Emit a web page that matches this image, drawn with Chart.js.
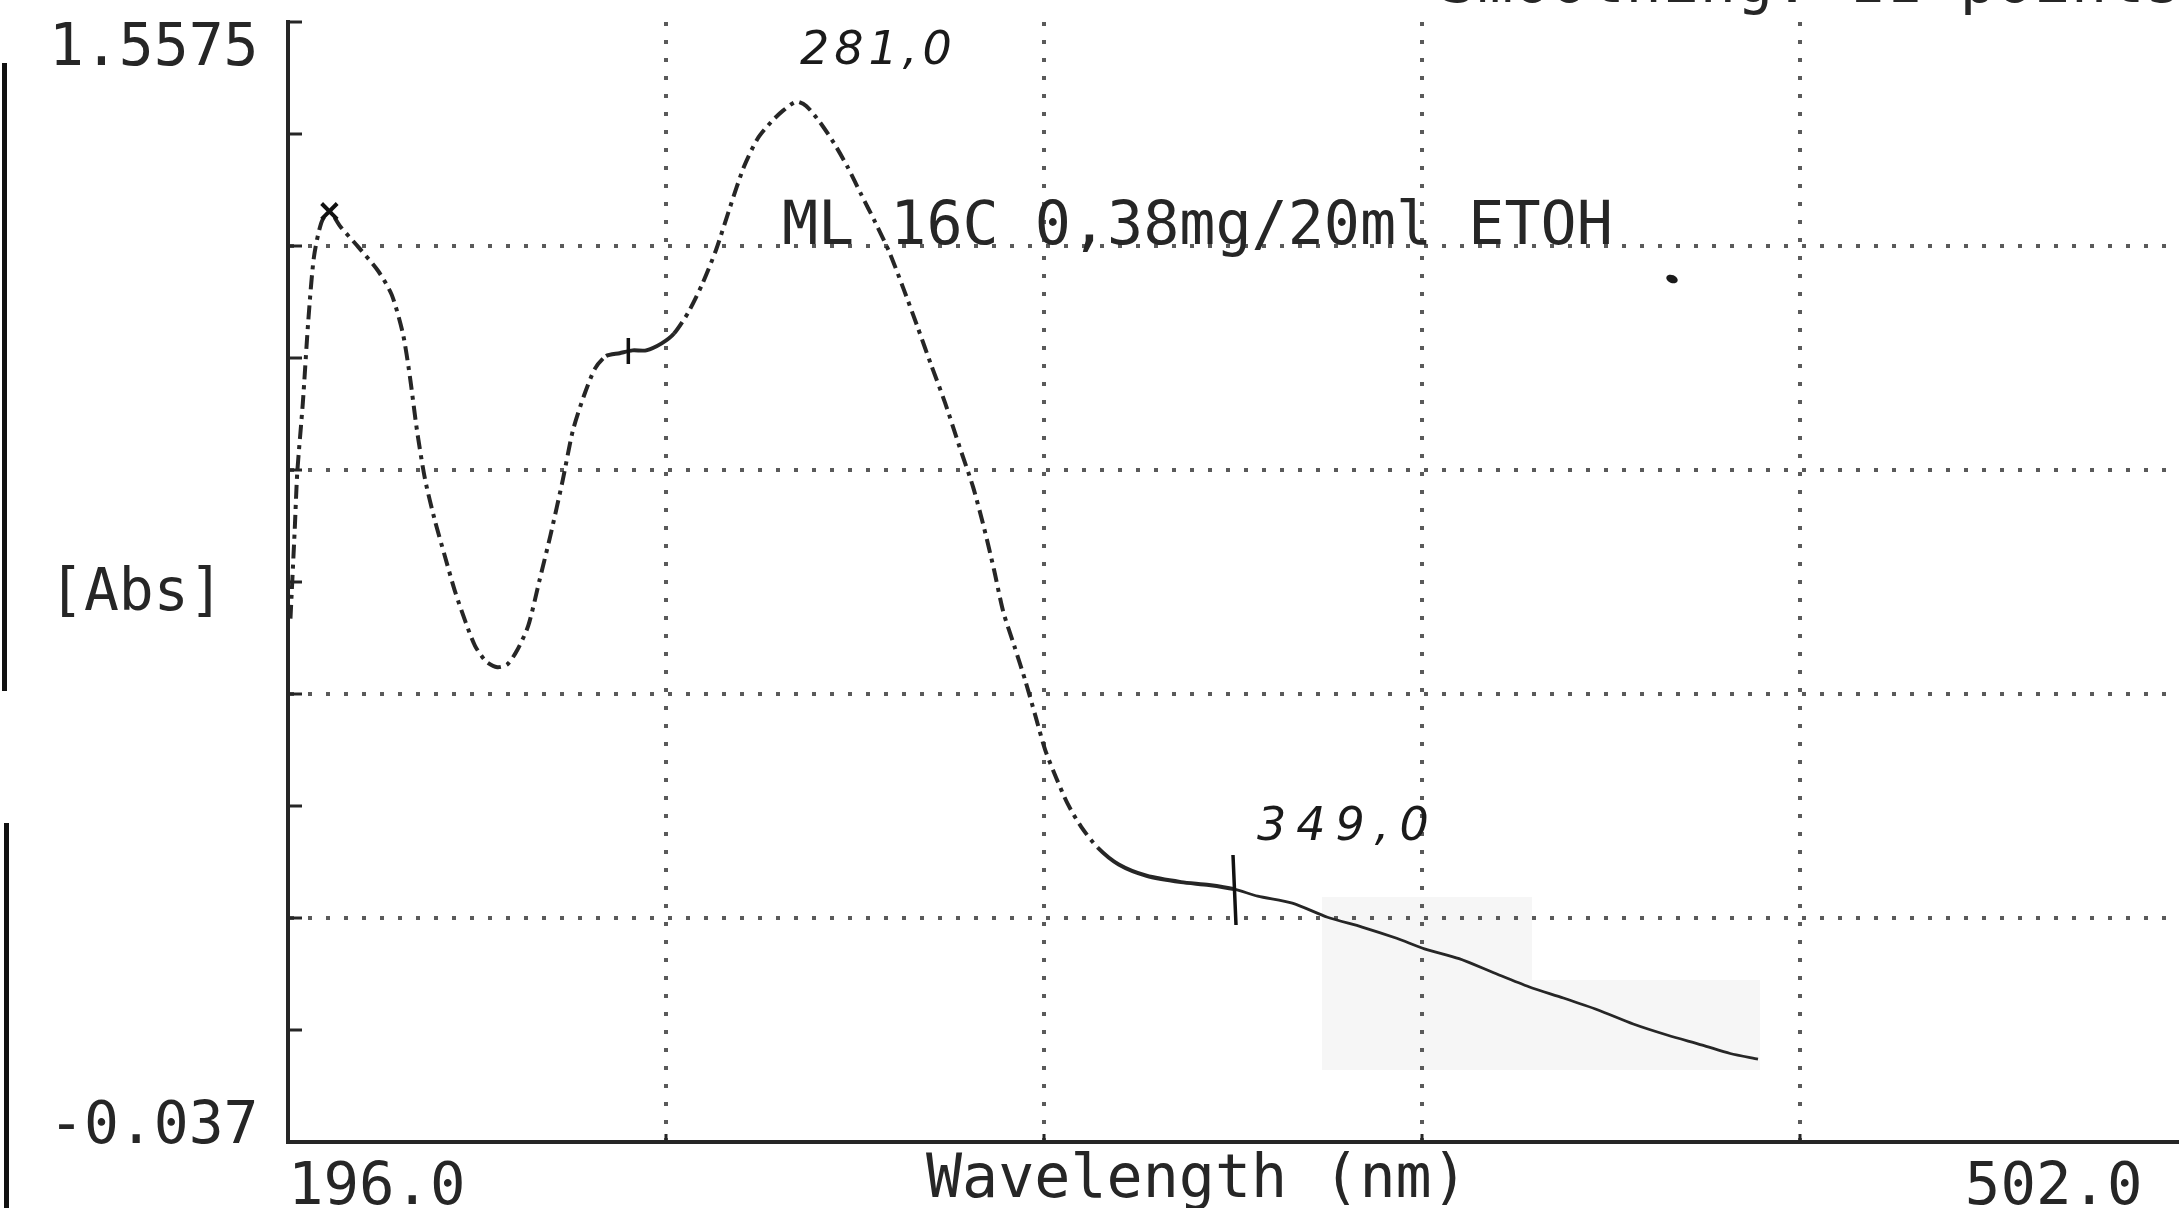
<!DOCTYPE html>
<html>
<head>
<meta charset="utf-8">
<script src="https://cdn.jsdelivr.net/npm/chart.js@4.4.1/dist/chart.umd.min.js"></script>
<style>
  html, body { margin: 0; padding: 0; background: #fff; overflow: hidden; }
</style>
</head>
<body>
<canvas id="spectrum" width="2179" height="1208"></canvas>
<script>
// spectrum (nm / Abs)
const wavelengths = [196.4, 197.1, 197.5, 198.4, 199.3, 200.2, 201.4, 202.7, 204.5, 207.4,
  210.6, 212.8, 214.6, 215.7, 216.9, 218.2, 219.8, 221.4, 223.0, 224.8,
  226.3, 228.1, 229.9, 231.5, 233.1, 234.9, 236.7, 238.5, 240.5, 242.1,
  243.9, 245.7, 247.5, 249.7, 251.8, 254.0, 256.5, 258.5, 260.8, 263.0,
  265.3, 267.5, 269.8, 272.0, 274.2, 276.1, 278.3, 279.9, 282.1, 284.4,
  286.6, 288.8, 291.1, 293.4, 295.6, 297.9, 300.1, 302.4, 304.6, 306.9,
  308.7, 310.3, 311.8, 313.6, 315.4, 317.0, 318.6, 320.4, 322.2, 324.4,
  327.1, 330.5, 335.0, 340.6, 345.1, 349.2, 353.0, 358.6, 364.3, 369.9,
  375.5, 380.0, 385.6, 391.2, 396.9, 402.5, 408.1, 413.8, 419.4, 425.0,
  429.5, 434.0];
const absorbance = [0.708, 0.837, 0.916, 1.015, 1.134, 1.223, 1.272, 1.288, 1.266, 1.237,
  1.203, 1.169, 1.114, 1.055, 0.975, 0.906, 0.847, 0.797, 0.748, 0.702,
  0.669, 0.647, 0.639, 0.643, 0.663, 0.698, 0.762, 0.827, 0.906, 0.975,
  1.025, 1.064, 1.082, 1.086, 1.090, 1.090, 1.100, 1.114, 1.144, 1.183,
  1.233, 1.292, 1.351, 1.391, 1.415, 1.431, 1.444, 1.438, 1.415, 1.385,
  1.351, 1.312, 1.272, 1.229, 1.179, 1.124, 1.070, 1.015, 0.956, 0.896,
  0.837, 0.778, 0.718, 0.669, 0.619, 0.570, 0.521, 0.481, 0.445, 0.412,
  0.382, 0.358, 0.342, 0.333, 0.329, 0.323, 0.313, 0.303, 0.283, 0.269,
  0.253, 0.238, 0.224, 0.204, 0.184, 0.168, 0.151, 0.131, 0.115, 0.101,
  0.089, 0.081];

const xTicks = [196, 257.2, 318.4, 379.6, 440.8, 502];
const xTickLabels = ['196.0', '', '', '', '', '502.0 '];
const yTicks = [-0.037, 0.12245, 0.2819, 0.44135, 0.6008, 0.76025, 0.9197, 1.07915, 1.2386, 1.39805, 1.5575];
const yTickLabels = ['-0.037', '', '', '', '', '[Abs]', '', '', '', '', '1.5575'];

const sampleNote = 'ML 16C 0,38mg/20ml ETOH';
const headerNote = 'Smoothing: 11 points';
const peakNotes = ['281,0', '349,0'];
const peakNoteAt = [281, 349];

const mono = '"DejaVu Sans Mono", monospace';
const ink = '#262626';
const dots = '#5a5a5a';
const starIndex = 7; // the x-marked first maximum

function solidPart(x) {
  return (x >= 247 && x < 257) || x >= 326;
}

// labels sit a little inside the end ticks, like on the plotter output
function yLabelFont(ctx) {
  const i = ctx.index;
  let lh = 1.2;
  if (i === yTicks.length - 1) lh = 0.98;
  else if (i === 0) lh = 0.5;
  else if (yTickLabels[i] === '[Abs]') lh = 0.45;
  return { family: mono, size: 58, lineHeight: lh };
}

const paper = {
  id: 'paper',
  beforeDraw(chart) {
    const c = chart.ctx;
    c.save();
    c.fillStyle = '#fff';
    c.fillRect(0, 0, chart.width, chart.height);
    // pasted strip behind the tail of the trace
    c.fillStyle = '#f6f6f6';
    c.fillRect(1322, 897, 210, 173);
    c.fillRect(1530, 980, 230, 90);
    // page edge
    c.fillStyle = '#111';
    c.fillRect(2, 63, 5, 628);
    c.fillRect(4, 823, 5, 385);
    c.restore();
  },
  afterDatasetsDraw(chart) {
    const c = chart.ctx;
    const x = chart.scales.x;
    c.save();
    c.fillStyle = ink;
    c.font = '60px ' + mono;
    c.textBaseline = 'middle';
    c.fillText(sampleNote, 782, 228);
    c.textBaseline = 'alphabetic';
    c.letterSpacing = '1px';
    c.fillText(headerNote, 1440, 2);

    // handwritten notes
    c.font = 'italic 46px "DejaVu Sans", sans-serif';
    c.fillStyle = '#1a1a1a';
    c.textBaseline = 'middle';
    c.letterSpacing = '5px';
    c.fillText(peakNotes[0], x.getPixelForValue(peakNoteAt[0]) - 13, 52);
    c.letterSpacing = '10px';
    c.fillText(peakNotes[1], x.getPixelForValue(peakNoteAt[1]) + 24, 828);
    c.letterSpacing = '0px';

    // pen marks across the trace
    c.strokeStyle = '#111';
    c.lineWidth = 3.5;
    c.beginPath();
    const px = x.getPixelForValue(349);
    c.moveTo(px, 855); c.lineTo(px + 3, 925);
    const qx = x.getPixelForValue(251.1);
    c.moveTo(qx, 338); c.lineTo(qx, 364);
    c.stroke();
    c.beginPath();
    c.ellipse(1672, 279, 6, 4, 0.4, 0, Math.PI * 2);
    c.fill();
    c.restore();
  }
};

new Chart(document.getElementById('spectrum'), {
  type: 'line',
  data: {
    datasets: [{
      data: wavelengths.map((w, i) => ({ x: w, y: absorbance[i] })),
      borderColor: ink,
      borderWidth: 4,
      tension: 0.25,
      pointStyle: 'crossRot',
      pointRadius: ctx => ctx.dataIndex === starIndex ? 11 : 0,
      pointBorderWidth: 4,
      pointBorderColor: '#111',
      segment: {
        borderDash: ctx => solidPart(ctx.p0.parsed.x) ? [] : [14, 6, 4, 6],
        borderWidth: ctx => ctx.p0.parsed.x >= 349 ? 2.8 : 4
      }
    }]
  },
  options: {
    responsive: false,
    animation: false,
    devicePixelRatio: 1,
    layout: { padding: { left: 49, top: 22, right: 1, bottom: 0 } },
    plugins: { legend: { display: false }, tooltip: { enabled: false } },
    scales: {
      x: {
        type: 'linear',
        min: 196,
        max: 502,
        afterBuildTicks: s => { s.ticks = xTicks.map(v => ({ value: v })); },
        afterFit: s => { s.height = 66; s.paddingLeft = 0; s.paddingRight = 0; },
        border: { color: ink, width: 4, dash: [4, 14] },
        grid: {
          color: ctx => (ctx.index > 0 && ctx.index < xTicks.length - 1) ? dots : 'rgba(0,0,0,0)',
          lineWidth: 4,
          tickLength: -8,
          tickWidth: 3,
          tickColor: ctx => (ctx.index > 0 && ctx.index < xTicks.length - 1) ? ink : 'rgba(0,0,0,0)'
        },
        ticks: {
          autoSkip: false,
          maxRotation: 0,
          align: 'inner',
          padding: 19,
          color: ink,
          font: { family: mono, size: 59 },
          callback: (v, i) => xTickLabels[i]
        },
        title: {
          display: true,
          text: 'Wavelength (nm)  ',
          color: ink,
          font: { family: mono, size: 60 },
          padding: { top: 0, bottom: -9 }
        }
      },
      y: {
        type: 'linear',
        min: -0.037,
        max: 1.5575,
        afterBuildTicks: s => { s.ticks = yTicks.map(v => ({ value: v })); },
        afterFit: s => { s.width = 239; s.paddingTop = 0; s.paddingBottom = 0; },
        border: { color: ink, width: 4, dash: [4, 14] },
        grid: {
          color: ctx => (ctx.index % 2 === 0 && ctx.index > 0 && ctx.index < yTicks.length - 1) ? dots : 'rgba(0,0,0,0)',
          lineWidth: 4,
          tickLength: -14,
          tickWidth: 3,
          tickColor: ink
        },
        ticks: {
          autoSkip: false,
          crossAlign: 'far',
          color: ink,
          font: yLabelFont,
          callback: (v, i) => {
            if (i === 0) return [yTickLabels[i], ''];
            if (yTickLabels[i] !== '') return ['', yTickLabels[i]];
            return yTickLabels[i];
          }
        }
      }
    }
  },
  plugins: [paper]
});
</script>
</body>
</html>
